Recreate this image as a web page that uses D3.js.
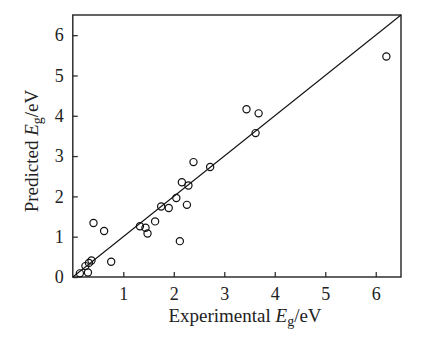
<!DOCTYPE html>
<html>
<head>
<meta charset="utf-8">
<script src="https://cdn.jsdelivr.net/npm/d3@7"></script>
<style>
  body { margin: 0; background: #fff; }
  text { font-family: "Liberation Serif", "Times New Roman", serif; fill: #222; }
</style>
</head>
<body>
<div id="chart"></div>
<script>
// experimental vs predicted band gap (eV)
const experimental = [0.14, 0.25, 0.30, 0.32, 0.37, 0.41, 0.62, 0.76, 1.33, 1.44, 1.48, 1.63, 1.75, 1.90, 2.05, 2.12, 2.26, 2.16, 2.29, 2.39, 2.72, 3.44, 3.68, 3.62, 6.21];
const predicted    = [0.09, 0.27, 0.11, 0.35, 0.41, 1.34, 1.14, 0.38, 1.26, 1.22, 1.08, 1.38, 1.75, 1.71, 1.96, 0.89, 1.79, 2.35, 2.27, 2.85, 2.73, 4.16, 4.06, 3.57, 5.47];
const xTicks = [1, 2, 3, 4, 5, 6];
const yTicks = [0, 1, 2, 3, 4, 5, 6];
const domainMax = 6.5;

const W = 433, H = 340;
const margin = {top: 15, right: 32, bottom: 63, left: 72.8};
const w = W - margin.left - margin.right;
const h = H - margin.top - margin.bottom;

const svg = d3.select("#chart").append("svg").attr("width", W).attr("height", H);
const g = svg.append("g").attr("transform", `translate(${margin.left},${margin.top})`);

const x = d3.scaleLinear().domain([0, domainMax]).range([0, w]);
const y = d3.scaleLinear().domain([0, domainMax]).range([h, 0]);

// x axis, ticks inward
const xAxis = g.append("g").attr("transform", `translate(0,${h})`)
  .call(d3.axisBottom(x).tickValues(xTicks).tickFormat(d3.format("d"))
    .tickSizeInner(-5).tickSizeOuter(0).tickPadding(10));
xAxis.select(".domain").remove();
xAxis.selectAll("line").attr("stroke", "#333").attr("stroke-width", 1.3);
xAxis.selectAll("text").style("font-size", "18px").style("font-family", "Liberation Serif");

const yAxis = g.append("g")
  .call(d3.axisLeft(y).tickValues(yTicks).tickFormat(d3.format("d"))
    .tickSizeInner(-5).tickSizeOuter(0).tickPadding(9));
yAxis.select(".domain").remove();
yAxis.selectAll("line").attr("stroke", "#333").attr("stroke-width", 1.3);
yAxis.selectAll("text").style("font-size", "18px").style("font-family", "Liberation Serif");

// frame
g.append("rect").attr("width", w).attr("height", h)
  .attr("fill", "none").attr("stroke", "#222").attr("stroke-width", 1.4);

// y = x line
g.append("line")
  .attr("x1", x(0)).attr("y1", y(0)).attr("x2", x(domainMax)).attr("y2", y(domainMax))
  .attr("stroke", "#111").attr("stroke-width", 1.1);

// points
g.selectAll("circle.pt")
  .data(experimental.map((d, i) => [d, predicted[i]]))
  .enter()
  .append("circle")
  .attr("class", "pt")
  .attr("cx", d => x(d[0]))
  .attr("cy", d => y(d[1]))
  .attr("r", 3.6)
  .attr("fill", "none")
  .attr("stroke", "#111")
  .attr("stroke-width", 1.2);

// axis titles
const xt = svg.append("text")
  .attr("x", 245).attr("y", 322)
  .attr("text-anchor", "middle").attr("font-size", 19);
xt.append("tspan").text("Experimental ");
xt.append("tspan").attr("font-style", "italic").text("E");
xt.append("tspan").attr("font-size", 14).attr("dy", 4).text("g");
xt.append("tspan").attr("dy", -4).text("/eV");

const yt = svg.append("text")
  .attr("transform", "translate(38,151) rotate(-90)")
  .attr("text-anchor", "middle").attr("font-size", 19);
yt.append("tspan").text("Predicted ");
yt.append("tspan").attr("font-style", "italic").text("E");
yt.append("tspan").attr("font-size", 14).attr("dy", 4).text("g");
yt.append("tspan").attr("dy", -4).text("/eV");
</script>
</body>
</html>
